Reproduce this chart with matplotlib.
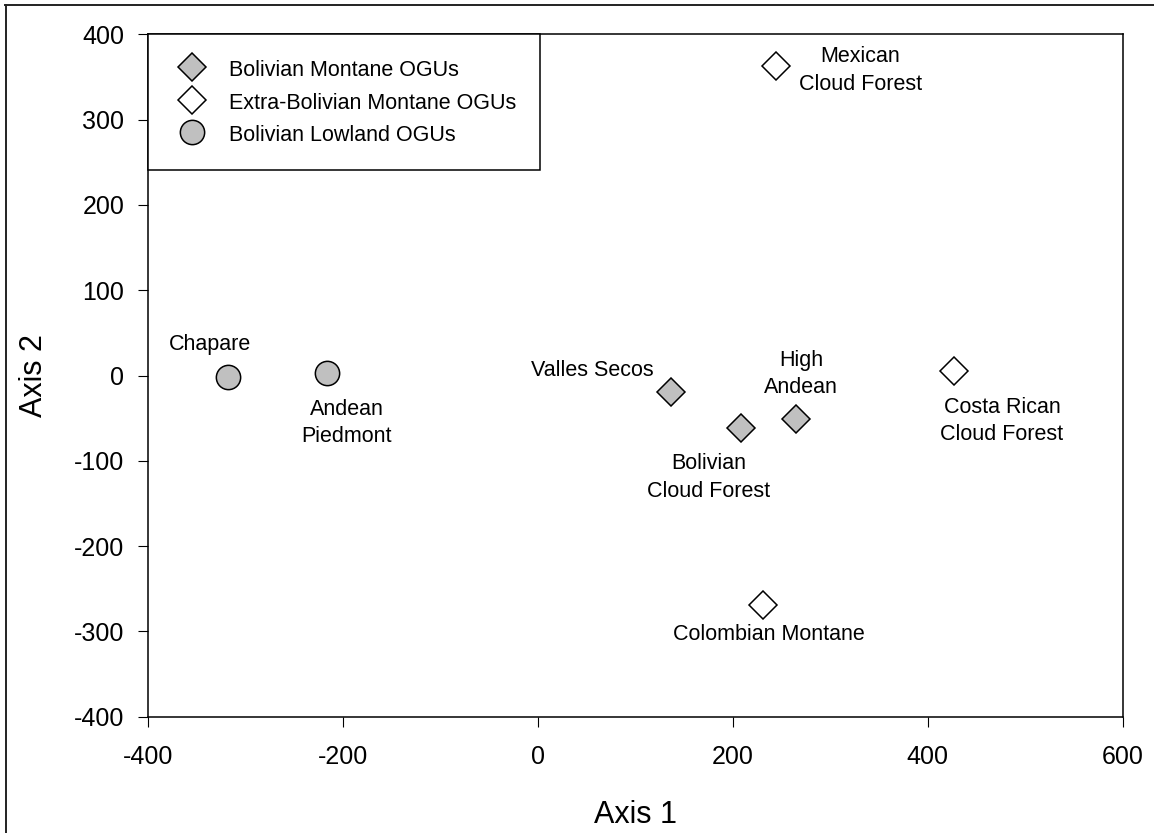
import matplotlib
matplotlib.use("Agg")
import matplotlib.pyplot as plt
from matplotlib.lines import Line2D

# Ordination scores of the operational geographic units (OGUs)
montane_names = ["Valles Secos", "Bolivian\nCloud Forest", "High\nAndean"]
montane_axis1 = [136.5, 208.3, 264.8]
montane_axis2 = [-19.0, -61.9, -51.3]

extra_names = ["Mexican\nCloud Forest", "Costa Rican\nCloud Forest", "Colombian Montane"]
extra_axis1 = [244.3, 426.9, 230.9]
extra_axis2 = [363.2, 5.6, -269.0]

lowland_names = ["Chapare", "Andean\nPiedmont"]
lowland_axis1 = [-317.8, -216.9]
lowland_axis2 = [-2.1, 2.6]

group_labels = ["Bolivian Montane OGUs", "Extra-Bolivian Montane OGUs", "Bolivian Lowland OGUs"]

x_ticks = [-400, -200, 0, 200, 400, 600]
y_ticks = [-400, -300, -200, -100, 0, 100, 200, 300, 400]

# Label placement (pixel offsets from each marker, horizontal alignment)
montane_offsets = [((-17, 21), "right"), ((-32, -49), "center"), ((5, 45), "center")]
extra_offsets = [((84, -5), "center"), ((48, -50), "center"), ((6, -30), "center")]
lowland_offsets = [((-18, 33), "center"), ((20, -50), "center")]

plt.rcParams["font.family"] = ["Liberation Sans", "DejaVu Sans"]
plt.rcParams["axes.unicode_minus"] = False

W, H, DPI = 1154, 833, 100
fig = plt.figure(figsize=(W / DPI, H / DPI), dpi=DPI)
ax = fig.add_axes([148.3 / W, 1 - 716.7 / H, 974.4 / W, 682.4 / H])

gray = "#c0c0c0"
common = dict(linestyle="none", markeredgecolor="black", markeredgewidth=1.1, zorder=3)
ax.plot(montane_axis1, montane_axis2, marker="D", markersize=14.5,
        markerfacecolor=gray, label=group_labels[0], **common)
ax.plot(extra_axis1, extra_axis2, marker="D", markersize=14.5,
        markerfacecolor="white", label=group_labels[1], **common)
ax.plot(lowland_axis1, lowland_axis2, marker="o", markersize=17.5,
        markerfacecolor=gray, label=group_labels[2], **common)

for names, xs, ys, offs in [
    (montane_names, montane_axis1, montane_axis2, montane_offsets),
    (extra_names, extra_axis1, extra_axis2, extra_offsets),
    (lowland_names, lowland_axis1, lowland_axis2, lowland_offsets),
]:
    for name, x, y, (off, ha) in zip(names, xs, ys, offs):
        ax.annotate(name, xy=(x, y), xytext=off, textcoords="offset pixels",
                    ha=ha, va="center", fontsize=15.5, linespacing=1.4,
                    multialignment="center", color="black")

ax.set_xlim(-400, 600)
ax.set_ylim(-400, 400)
ax.set_xticks(x_ticks)
ax.set_yticks(y_ticks)
ax.tick_params(axis="both", direction="out", length=7.2, width=0.8,
               labelsize=18, color="black")
ax.tick_params(axis="y", pad=10)
ax.tick_params(axis="x", pad=13)
for sp in ax.spines.values():
    sp.set_linewidth(1.1)
    sp.set_color("black")

ax.set_xlabel("Axis 1", fontsize=22)
ax.set_ylabel("Axis 2", fontsize=22)
ax.xaxis.label.set_va("baseline")
ax.xaxis.set_label_coords(0.5, (716.7 - 823) / 682.4)
ax.yaxis.label.set_va("baseline")
ax.yaxis.set_label_coords((42 - 148.3) / 974.4, 0.5)

leg = ax.legend(loc="upper left", bbox_to_anchor=(0, 1), borderaxespad=0,
                fontsize=15.5, frameon=True, fancybox=False, framealpha=1,
                edgecolor="black", borderpad=1.1, handlelength=1.88,
                handleheight=1.2, handletextpad=0.78, labelspacing=0.43,
                numpoints=1)
leg.get_frame().set_linewidth(1.1)
leg.set_zorder(5)

# Outer frame lines along the top and left edges of the figure
fig.add_artist(Line2D([5 / W, 1], [1 - 5 / H, 1 - 5 / H], transform=fig.transFigure,
                      color="#222222", linewidth=1.4))
fig.add_artist(Line2D([5.5 / W, 5.5 / W], [0, 1 - 5 / H], transform=fig.transFigure,
                      color="#222222", linewidth=1.4))

fig.savefig("out.png", dpi=DPI)
